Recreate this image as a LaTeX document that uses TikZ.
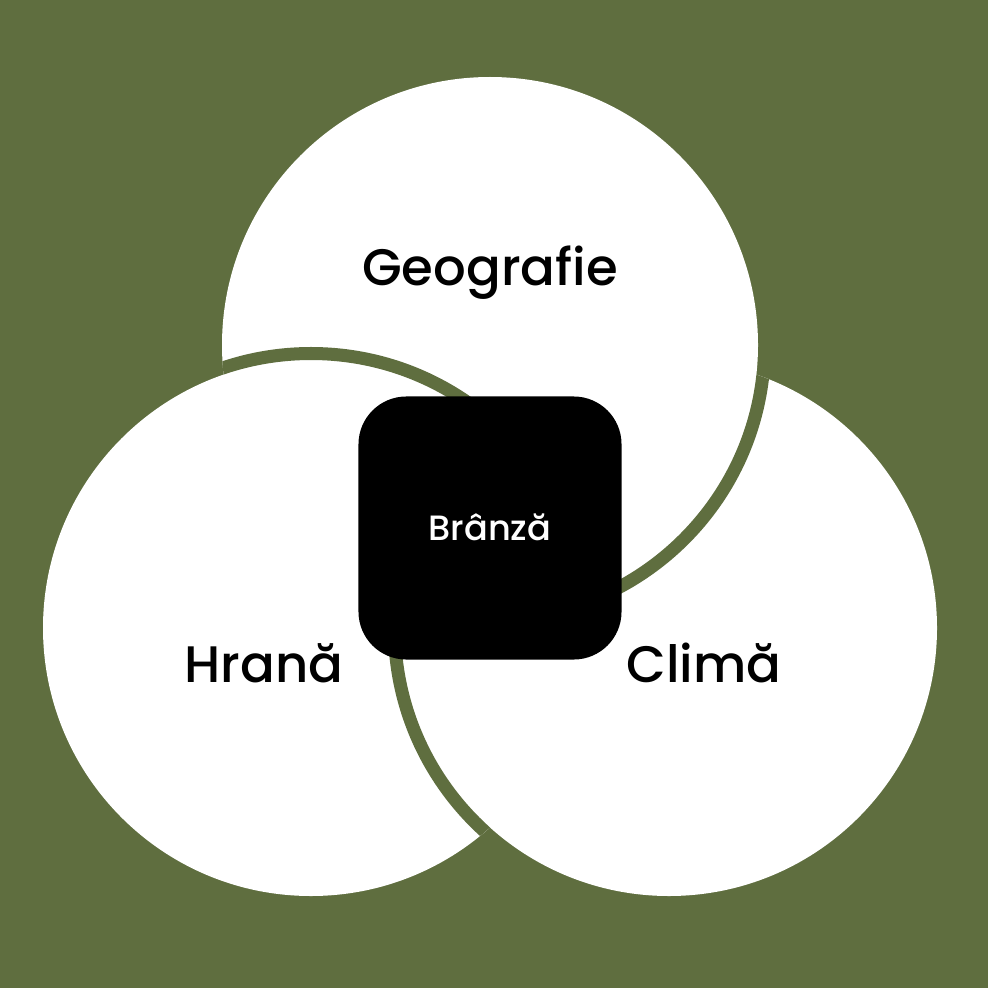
\documentclass[tikz,border=0pt]{standalone}
\usepackage{fontspec}
\setmainfont{Poppins Medium}
\usetikzlibrary{positioning}
\definecolor{bggreen}{HTML}{5F6E3F}

\begin{document}
\begin{tikzpicture}[x=0.01cm,y=-0.01cm,
    ring/.style={bggreen,line width=3.7pt},
    setname/.style={anchor=base,font=\fontsize{14.6}{17}\selectfont},
    corebox/.style={fill=black,text=white,minimum size=74.8pt,inner sep=0pt,
      rounded corners=13.6pt}]
  \fill[bggreen] (0,0) rectangle (988,988);
  \coordinate (geo) at (490,345);
  \coordinate (hra) at (311,628);
  \coordinate (cli) at (669,628);
  \foreach \c in {geo,hra,cli}
    \fill[white] (\c) circle [radius=268];
  % each circle lies over the next one
  \begin{scope}
    \clip (geo) circle [radius=268];
    \draw[ring] (hra) circle [radius=274.5];
  \end{scope}
  \begin{scope}
    \clip (cli) circle [radius=268];
    \draw[ring] (geo) circle [radius=274.5];
  \end{scope}
  \begin{scope}
    \clip (hra) circle [radius=268];
    \draw[ring] (cli) circle [radius=274.5];
  \end{scope}
  \node[setname] (geografie) at (490,285) {Geografie};
  \node[setname] (hrana) at (264,682) {Hrană};
  \node[setname] (clima) at (704,682) {Climă};
  \node[corebox] (branza) at (490,528) {};
  \node[anchor=base,text=white,font=\fontsize{10}{12}\selectfont] (branzatext) at (490,540) {Brânză};
\end{tikzpicture}
\end{document}
